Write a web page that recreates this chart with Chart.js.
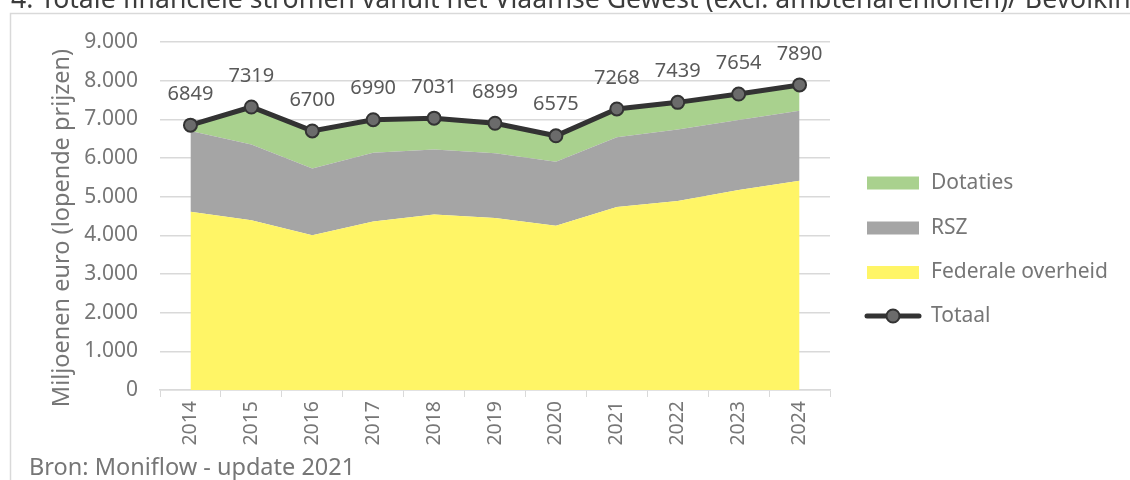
<!DOCTYPE html>
<html>
<head>
<meta charset="utf-8">
<script src="https://cdn.jsdelivr.net/npm/chart.js@4"></script>
<style>
    html, body { margin: 0; padding: 0; background: #ffffff; }
    #wrap { width: 1130px; height: 480px; position: relative; }
</style>
</head>
<body>
<div id="wrap"><canvas id="flowChart"></canvas></div>
<script>
const categories = ["2014", "2015", "2016", "2017", "2018", "2019", "2020", "2021", "2022", "2023", "2024"];
const federaleOverheid = [4610, 4390, 4005, 4360, 4540, 4450, 4245, 4735, 4885, 5170, 5410];
const rsz = [2090, 1960, 1725, 1775, 1680, 1670, 1655, 1800, 1850, 1810, 1810];
const dotaties = [149, 969, 970, 855, 811, 779, 675, 733, 704, 674, 670];
const totaal = [6849, 7319, 6700, 6990, 7031, 6899, 6575, 7268, 7439, 7654, 7890];
const yTickValues = [0, 1000, 2000, 3000, 4000, 5000, 6000, 7000, 8000, 9000];

const fontFamily = "'Noto Sans', 'Open Sans', sans-serif";
const textGray = "#767676";
const labelGray = "#595959";

const colors = {
    dotaties: "#a9d18e",
    rsz: "#a5a5a5",
    federaal: "#fff566",
    line: "#333333",
    point: "#6b6b6b",
    grid: "#d9d9d9"
};

function formatThousands(v) {
    return String(v).replace(/\B(?=(\d{3})+(?!\d))/g, ".");
}

const decorationsPlugin = {
    id: "decorations",
    afterDraw: function (chart) {
        const ctx = chart.ctx;
        ctx.save();

        // outer frame
        ctx.strokeStyle = "#d9d9d9";
        ctx.lineWidth = 1.5;
        ctx.strokeRect(10.5, 13.5, 1200, 600);

        // cut-off figure title at the very top
        const visible = "4. Totale financiële stromen vanuit het Vlaamse Gewest (excl. ambtenarenlonen)/ Bevolkin";
        ctx.font = "25px " + fontFamily;
        const fit = 1120 / ctx.measureText(visible).width;
        ctx.font = (25 * fit).toFixed(1) + "px " + fontFamily;
        ctx.fillStyle = "#3c3c3c";
        ctx.textBaseline = "alphabetic";
        ctx.textAlign = "left";
        const prefix = ctx.measureText("Figuur ").width;
        ctx.fillText("Figuur " + visible + "g", 11 - prefix, 7.5);

        // y axis title
        ctx.save();
        ctx.translate(62, 228);
        ctx.rotate(-Math.PI / 2);
        ctx.font = "23.5px " + fontFamily;
        ctx.fillStyle = textGray;
        ctx.textAlign = "center";
        ctx.textBaseline = "middle";
        ctx.fillText("Miljoenen euro (lopende prijzen)", 0, 0);
        ctx.restore();

        // source
        ctx.font = "23.5px " + fontFamily;
        ctx.fillStyle = textGray;
        ctx.textAlign = "left";
        ctx.textBaseline = "middle";
        ctx.fillText("Bron: Moniflow - update 2021", 29, 468);

        // legend
        const legendItems = [
            { label: "Dotaties", color: colors.dotaties, y: 183 },
            { label: "RSZ", color: colors.rsz, y: 228 },
            { label: "Federale overheid", color: colors.federaal, y: 272.5 }
        ];
        ctx.font = "21px " + fontFamily;
        legendItems.forEach(function (item) {
            ctx.fillStyle = item.color;
            ctx.fillRect(867, item.y - 6.5, 52, 13);
            ctx.fillStyle = textGray;
            ctx.fillText(item.label, 931, item.y);
        });
        ctx.strokeStyle = colors.line;
        ctx.lineWidth = 5;
        ctx.lineCap = "round";
        ctx.beginPath();
        ctx.moveTo(867, 316);
        ctx.lineTo(919, 316);
        ctx.stroke();
        ctx.beginPath();
        ctx.arc(893, 316, 6.5, 0, Math.PI * 2);
        ctx.fillStyle = colors.point;
        ctx.fill();
        ctx.lineWidth = 2;
        ctx.stroke();
        ctx.fillStyle = textGray;
        ctx.fillText("Totaal", 931, 316);

        // value labels above the total line
        const meta = chart.getDatasetMeta(3);
        ctx.font = "20px " + fontFamily;
        ctx.fillStyle = labelGray;
        ctx.textAlign = "center";
        ctx.textBaseline = "middle";
        meta.data.forEach(function (pt, i) {
            ctx.fillText(String(totaal[i]), pt.x, pt.y - 31);
        });

        ctx.restore();
    }
};

const ctx = document.getElementById("flowChart");

new Chart(ctx, {
    type: "line",
    plugins: [decorationsPlugin],
    data: {
        labels: categories,
        datasets: [
            {
                label: "Federale overheid",
                data: federaleOverheid,
                stack: "areas",
                fill: "origin",
                backgroundColor: colors.federaal,
                borderWidth: 0,
                pointRadius: 0,
                order: 1
            },
            {
                label: "RSZ",
                data: rsz,
                stack: "areas",
                fill: "-1",
                backgroundColor: colors.rsz,
                borderWidth: 0,
                pointRadius: 0,
                order: 1
            },
            {
                label: "Dotaties",
                data: dotaties,
                stack: "areas",
                fill: "-1",
                backgroundColor: colors.dotaties,
                borderWidth: 0,
                pointRadius: 0,
                order: 1
            },
            {
                label: "Totaal",
                data: totaal,
                stack: "total",
                fill: false,
                borderColor: colors.line,
                borderWidth: 5,
                pointRadius: 6.5,
                pointBackgroundColor: colors.point,
                pointBorderColor: colors.line,
                pointBorderWidth: 2,
                order: 0
            }
        ]
    },
    options: {
        responsive: true,
        maintainAspectRatio: false,
        animation: false,
        layout: {
            padding: {
                top: 42,
                right: 300,
                bottom: 0,
                left: 0
            }
        },
        plugins: {
            legend: { display: false },
            tooltip: { enabled: false }
        },
        scales: {
            x: {
                offset: true,
                afterFit: function (scale) {
                    scale.height = 90;
                },
                ticks: {
                    color: textGray,
                    minRotation: 90,
                    maxRotation: 90,
                    autoSkip: false,
                    padding: 4,
                    font: { family: fontFamily, size: 19.5 }
                },
                grid: {
                    offset: true,
                    drawOnChartArea: false,
                    drawTicks: true,
                    tickLength: 7,
                    color: colors.grid
                },
                border: {
                    display: true,
                    color: colors.grid,
                    width: 1.5
                }
            },
            y: {
                stacked: true,
                min: 0,
                max: 9000,
                afterFit: function (scale) {
                    scale.width = 160;
                },
                afterBuildTicks: function (scale) {
                    scale.ticks = yTickValues.map(function (v) { return { value: v }; });
                },
                ticks: {
                    color: textGray,
                    padding: 22,
                    font: { family: fontFamily, size: 21 },
                    callback: function (v) { return formatThousands(v); }
                },
                grid: {
                    color: colors.grid,
                    lineWidth: 1.5,
                    drawTicks: false
                },
                border: {
                    display: false
                }
            }
        }
    }
});
</script>
</body>
</html>
